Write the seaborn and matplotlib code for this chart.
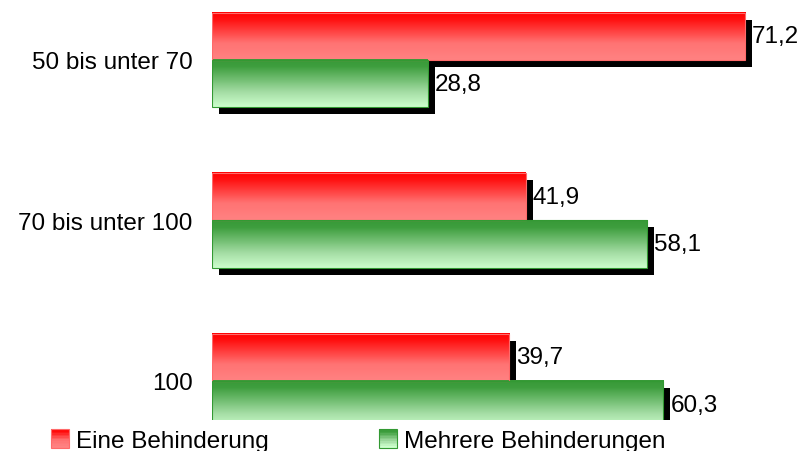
import numpy as np
import pandas as pd
import matplotlib
matplotlib.use("Agg")
import matplotlib.pyplot as plt
import seaborn as sns
from matplotlib.colors import LinearSegmentedColormap
from matplotlib.patches import Rectangle
from matplotlib.transforms import ScaledTranslation
from matplotlib.legend_handler import HandlerBase

# data
categories = ["50 bis unter 70", "70 bis unter 100", "100"]
series_names = ["Eine Behinderung", "Mehrere Behinderungen"]
eine = [71.2, 41.9, 39.7]
mehrere = [28.8, 58.1, 60.3]

df = pd.DataFrame({
    "Gruppe": categories * 2,
    "Anteil": eine + mehrere,
    "Art": [series_names[0]] * len(categories) + [series_names[1]] * len(categories),
})

# vertical gradients, top -> bottom
red_cmap = LinearSegmentedColormap.from_list(
    "rot", [(0, "#ff0000"), (0.15, "#ff1010"), (0.65, "#ff7373"), (1, "#ff8282")])
green_cmap = LinearSegmentedColormap.from_list(
    "gruen", [(0, "#389a38"), (0.15, "#3e9e3e"), (0.7, "#a6dea6"), (1, "#ccffcc")])
cmaps = [red_cmap, green_cmap]
edge_cols = ["#ff6a6a", "#339933"]
FS = 17.5


class GradientHandler(HandlerBase):
    def __init__(self, cmap, ec):
        super().__init__()
        self.cmap = cmap
        self.ec = ec

    def create_artists(self, legend, orig_handle, xdescent, ydescent,
                       width, height, fontsize, trans):
        n = 12
        arts = []
        for i in range(n):
            arts.append(Rectangle((-xdescent, -ydescent + height * (n - 1 - i) / n),
                                  width, height / n + 0.3,
                                  facecolor=self.cmap(i / (n - 1)),
                                  edgecolor="none", transform=trans))
        arts.append(Rectangle((-xdescent, -ydescent), width, height,
                              facecolor="none", edgecolor=self.ec, lw=0.8,
                              transform=trans))
        return arts


sns.set_theme(style="white", rc={"text.color": "black", "ytick.color": "black"})
plt.rcParams["font.family"] = ["Liberation Sans", "DejaVu Sans"]

fig = plt.figure(figsize=(8.05, 4.52), dpi=100)
ax = fig.add_axes([212 / 805, 31 / 452, 584 / 805, 421 / 452])

sns.barplot(data=df, y="Gruppe", x="Anteil", hue="Art", orient="h",
            width=0.586, palette=["#ff0000", "#339933"], errorbar=None,
            legend=False, ax=ax)

grad = np.linspace(0, 1, 128).reshape(-1, 1)
shadow_tr = ax.transData + ScaledTranslation(7 / 100, -7 / 100, fig.dpi_scale_trans)

for cont, cmap, ec in zip(ax.containers, cmaps, edge_cols):
    for bar in cont:
        x0, y0 = bar.get_x(), bar.get_y()
        w, h = bar.get_width(), bar.get_height()
        ax.add_patch(Rectangle((x0, y0), w, h, facecolor="black",
                               edgecolor="none", transform=shadow_tr, zorder=1))
        ax.imshow(grad, cmap=cmap, aspect="auto", origin="upper",
                  extent=(x0, x0 + w, y0 + h, y0), zorder=2,
                  interpolation="bilinear")
        bar.set_facecolor("none")
        bar.set_edgecolor(ec)
        bar.set_linewidth(0.8)
        bar.set_zorder(4)
    labels = [f"{v:.1f}".replace(".", ",") for v in cont.datavalues]
    ax.bar_label(cont, labels=labels, padding=5, fontsize=FS, color="black")

ax.set_xlim(0, 78)
ax.set_ylim(2.243, -0.38)
ax.set_xticks([])
ax.set_xlabel("")
ax.set_ylabel("")
ax.tick_params(axis="y", length=0, pad=14, labelsize=FS, labelcolor="black")
for s in ax.spines.values():
    s.set_visible(False)

proxies = [Rectangle((0, 0), 1, 1), Rectangle((0, 0), 1, 1)]
fig.legend(proxies, series_names,
           handler_map={proxies[0]: GradientHandler(red_cmap, edge_cols[0]),
                        proxies[1]: GradientHandler(green_cmap, edge_cols[1])},
           loc="upper left", bbox_to_anchor=(51 / 805, 1 - 430 / 452),
           ncol=2, frameon=False, fontsize=FS, handlelength=0.72,
           handleheight=0.8, handletextpad=0.3, columnspacing=4.55,
           borderpad=0, borderaxespad=0, labelcolor="black")

fig.savefig("out.png", dpi=100)
